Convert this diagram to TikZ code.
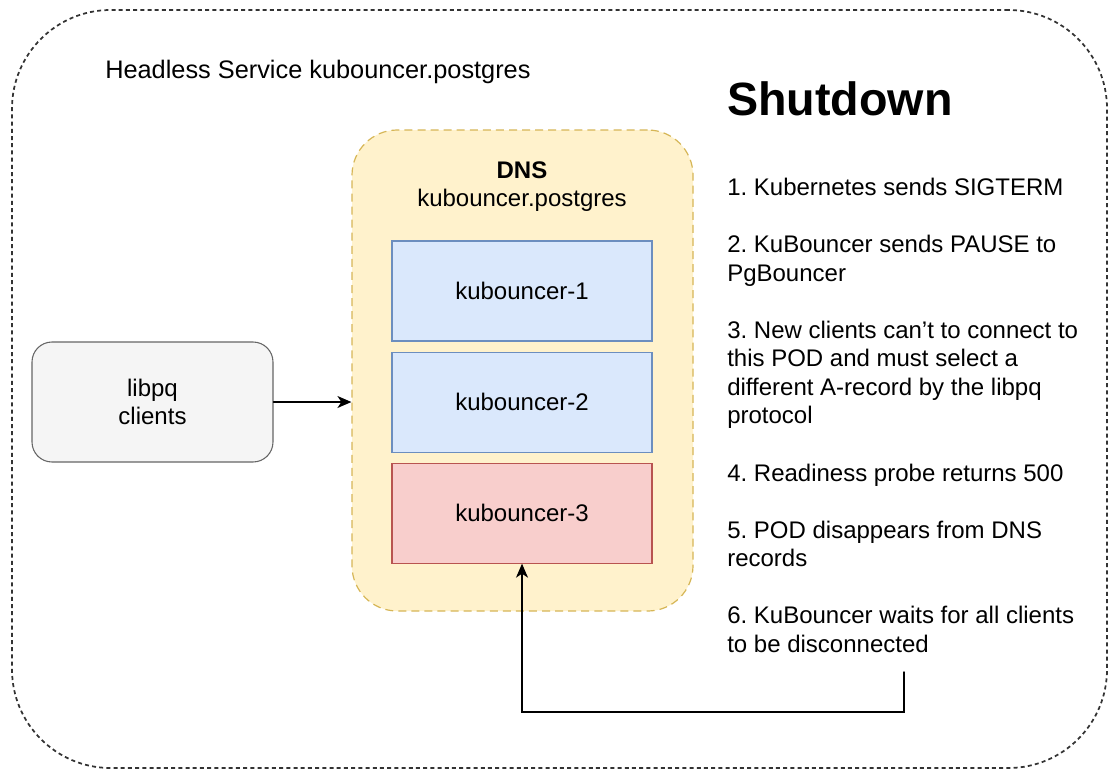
\documentclass[tikz,border=0pt]{standalone}
\usepackage{fontspec}
\setmainfont{Liberation Sans}
\usetikzlibrary{arrows.meta,positioning}
\definecolor{podblue}{HTML}{DAE8FC}
\definecolor{podblueline}{HTML}{6C8EBF}
\definecolor{podred}{HTML}{F8CECC}
\definecolor{podredline}{HTML}{B85450}
\definecolor{dnsfill}{HTML}{FFF2CC}
\definecolor{dnsline}{HTML}{D6B656}
\definecolor{clientfill}{HTML}{F5F5F5}
\definecolor{clientline}{HTML}{666666}
\frenchspacing
\newcommand*{\txt}{\fontsize{18}{21.4}\selectfont}
\tikzstyle{service}=[draw=black!80,line width=1.3pt,dash pattern=on 3pt off 2.4pt,rounded corners=74pt]
\tikzstyle{dnsbox}=[draw=dnsline,fill=dnsfill,line width=0.9pt,dash pattern=on 6pt off 3.8pt,rounded corners=34pt]
\tikzstyle{pod}=[draw=podblueline,fill=podblue,line width=0.8pt,minimum width=195pt,minimum height=75pt,font=\txt]
\tikzstyle{deadpod}=[pod,draw=podredline,fill=podred]
\tikzstyle{client}=[draw=clientline,fill=clientfill,line width=0.8pt,rounded corners=15pt,minimum width=180.75pt,minimum height=90pt,align=center,font=\txt]
\tikzstyle{label}=[inner sep=0pt,font=\txt]
\tikzstyle{flow}=[-{Stealth[length=10.5pt,width=9pt,inset=3pt]},line width=1.1pt,line cap=round]

\begin{document}
\begin{tikzpicture}[x=0.75pt,y=-0.75pt]
            \useasboundingbox (0,0) rectangle (1109,771);
            % headless service frame
            \node[service,minimum width=821.25pt,minimum height=568.5pt] (svc) at (559.5,389) {};
            \node[label,anchor=base west,font=\fontsize{19}{23}\selectfont] (title) at (105,78) {Headless Service kubouncer.postgres};
            % dns record with the pods
            \node[dnsbox,minimum width=255.75pt,minimum height=360.75pt] (dns) at (522.5,370.5) {};
            \node[label,anchor=north,align=center] (dnslabel) at (522,161) {\textbf{DNS}\\kubouncer.postgres};
            \node[pod] (k1) at (522,291) {kubouncer-1};
            \node[pod,below=7.5pt of k1] (k2) {kubouncer-2};
            \node[deadpod,below=7.5pt of k2] (k3) {kubouncer-3};
            % clients
            \node[client] (libpq) at (152.5,402) {libpq\\clients};
            \draw[flow] (libpq.east) -- (libpq.east -| dns.west);
            % shutdown steps
            \node[label,anchor=base west,font=\fontsize{35}{42}\selectfont\bfseries] (shutdown) at (727,115) {Shutdown};
            \node[label,anchor=north west,align=left] (steps) at (727,178) {1. Kubernetes sends SIGTERM\\[21.4pt]
                2. KuBouncer sends PAUSE to\\PgBouncer\\[21.4pt]
                3. New clients can't to connect to\\this POD and must select a\\different A-record by the libpq\\protocol\\[21.4pt]
                4. Readiness probe returns 500\\[21.4pt]
                5. POD disappears from DNS\\records\\[21.4pt]
                6. KuBouncer waits for all clients\\to be disconnected};
            \coordinate (wait) at (904,672);
            \draw[flow] (wait) -- ++(0,40) -| (k3.south);
        \end{tikzpicture}
\end{document}
